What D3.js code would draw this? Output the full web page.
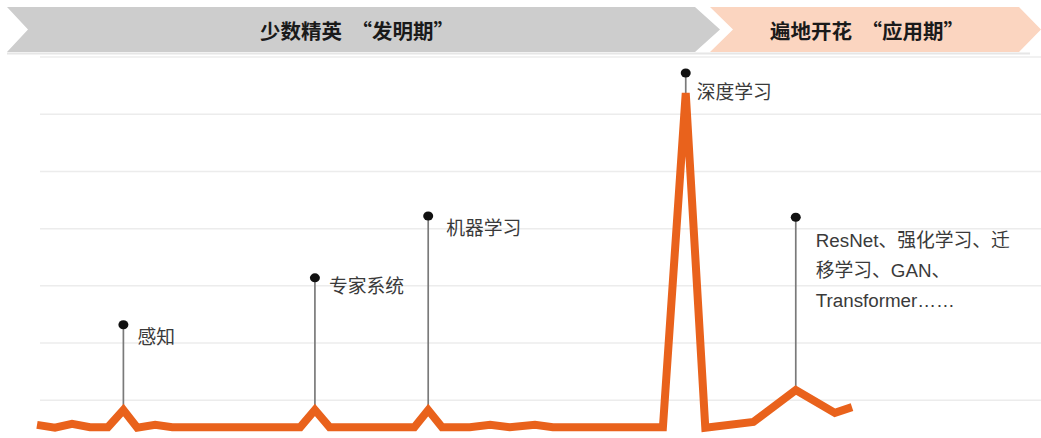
<!DOCTYPE html>
<html>
<head>
<meta charset="utf-8">
<script src="https://cdn.jsdelivr.net/npm/d3@7"></script>
<style>
body { margin: 0; background: #fff; }
.font { font-family: "Liberation Sans", "Noto Sans CJK SC", sans-serif; }
.label { font-size: 18.8px; fill: #3a3a3a; }
.phase { font-family: "Noto Sans CJK SC", sans-serif; font-size: 20.5px; font-weight: bold; fill: #1a1a1a; }
</style>
</head>
<body>
<svg id="chart" width="1041" height="438"></svg>
<script>
const SVG_WIDTH = 1041;
const SVG_HEIGHT = 438;

// timeline position (0-100) and heat value of the orange line
const X_VALUES = [0, 2.2, 4.3, 6.5, 8.7, 10.6, 12.3, 14.5, 16.6, 32.3, 34.1, 35.9,
                  46.3, 48.0, 49.7, 53.1, 55.6, 58.0, 61.1, 63.3, 76.8, 79.6, 82.0,
                  87.9, 93.1, 97.9, 100];
const Y_VALUES = [0.57, 0.52, 0.59, 0.53, 0.53, 0.83, 0.52, 0.57, 0.53, 0.53, 0.83, 0.53,
                  0.53, 0.83, 0.53, 0.53, 0.57, 0.53, 0.57, 0.53, 0.53, 6.37, 0.52,
                  0.62, 1.18, 0.78, 0.88];

// milestones: index into the line, height of the marker dot, label lines
const MILESTONE_INDEX = [5, 10, 13, 21, 24];
const MILESTONE_TOP = [2.32, 3.14, 4.22, 6.72, 4.20];
const MILESTONE_LABELS = [
    ["感知"],
    ["专家系统"],
    ["机器学习"],
    ["深度学习"],
    ["ResNet、强化学习、迁", "移学习、GAN、", "Transformer……"]
];
const GRID_VALUES = [1, 2, 3, 4, 5, 6, 7];

const PHASE_LABELS = ["少数精英  “发明期”", "遍地开花  “应用期”"];
const PHASE_COLORS = ["#cdcdcd", "#fbd5c0"];

const LINE_COLOR = "#e9621c";

var svg = d3.select("#chart");

var xScale = d3.scaleLinear().domain([0, 100]).range([37, 852]);
var yScale = d3.scaleLinear().domain([0, 7]).range([457.5, 57]);

// grid
svg.append("g")
    .selectAll("line")
    .data(GRID_VALUES)
    .enter()
    .append("line")
    .attr("x1", 40)
    .attr("x2", SVG_WIDTH)
    .attr("y1", function(d) { return yScale(d); })
    .attr("y2", function(d) { return yScale(d); })
    .attr("stroke", "#ececec")
    .attr("stroke-width", 1.5);

// phase banners
var bannerTop = 7, bannerBottom = 52, bannerMid = (bannerTop + bannerBottom) / 2;
var banners = [
    [[7, bannerTop], [695, bannerTop], [720, bannerMid], [695, bannerBottom], [7, bannerBottom], [28, bannerMid]],
    [[710, bannerTop], [1019, bannerTop], [1041, bannerMid], [1019, bannerBottom], [710, bannerBottom], [733, bannerMid]]
];
svg.append("line")
    .attr("x1", 7).attr("x2", 1030)
    .attr("y1", bannerBottom + 1.5).attr("y2", bannerBottom + 1.5)
    .attr("stroke", "#e6e6e6").attr("stroke-width", 2);
svg.append("g")
    .selectAll("path")
    .data(banners)
    .enter()
    .append("path")
    .attr("d", function(d) { return "M" + d.join("L") + "Z"; })
    .attr("fill", function(d, i) { return PHASE_COLORS[i]; });
var phaseCenters = [357, 867];
svg.append("g")
    .selectAll("text")
    .data(PHASE_LABELS)
    .enter()
    .append("text")
    .attr("class", "phase")
    .attr("x", function(d, i) { return phaseCenters[i]; })
    .attr("y", bannerMid)
    .attr("text-anchor", "middle")
    .attr("dominant-baseline", "central")
    .attr("xml:space", "preserve")
    .style("white-space", "pre")
    .text(function(d) { return d; });

// stems
var stems = svg.append("g");
MILESTONE_INDEX.forEach(function(idx, i) {
    var x = xScale(X_VALUES[idx]);
    var yTop = yScale(MILESTONE_TOP[i]);
    stems.append("line")
        .attr("x1", x).attr("x2", x)
        .attr("y1", yTop).attr("y2", yScale(Y_VALUES[idx]))
        .attr("stroke", "#7a7a7a")
        .attr("stroke-width", 1.7);
});

// orange line
var line = d3.line()
    .x(function(d) { return xScale(d[0]); })
    .y(function(d) { return yScale(d[1]); });
svg.append("path")
    .datum(d3.zip(X_VALUES, Y_VALUES))
    .attr("d", line)
    .attr("fill", "none")
    .attr("stroke", LINE_COLOR)
    .attr("stroke-width", 8)
    .attr("stroke-linejoin", "miter")
    .attr("stroke-miterlimit", 4);

// dots and labels
var labelOffsets = [[14, 12], [14, 8], [18, 12], [11, 19], [20, 23]];
MILESTONE_INDEX.forEach(function(idx, i) {
    var x = xScale(X_VALUES[idx]);
    var yTop = yScale(MILESTONE_TOP[i]);
    svg.append("ellipse")
        .attr("cx", x).attr("cy", yTop)
        .attr("rx", 5).attr("ry", 4.5)
        .attr("fill", "#111");
    var text = svg.append("text")
        .attr("class", "font label")
        .attr("x", x + labelOffsets[i][0])
        .attr("y", yTop + labelOffsets[i][1])
        .attr("dominant-baseline", "central");
    MILESTONE_LABELS[i].forEach(function(s, j) {
        text.append("tspan")
            .attr("x", x + labelOffsets[i][0])
            .attr("dy", j === 0 ? 0 : 30)
            .text(s);
    });
});
</script>
</body>
</html>
